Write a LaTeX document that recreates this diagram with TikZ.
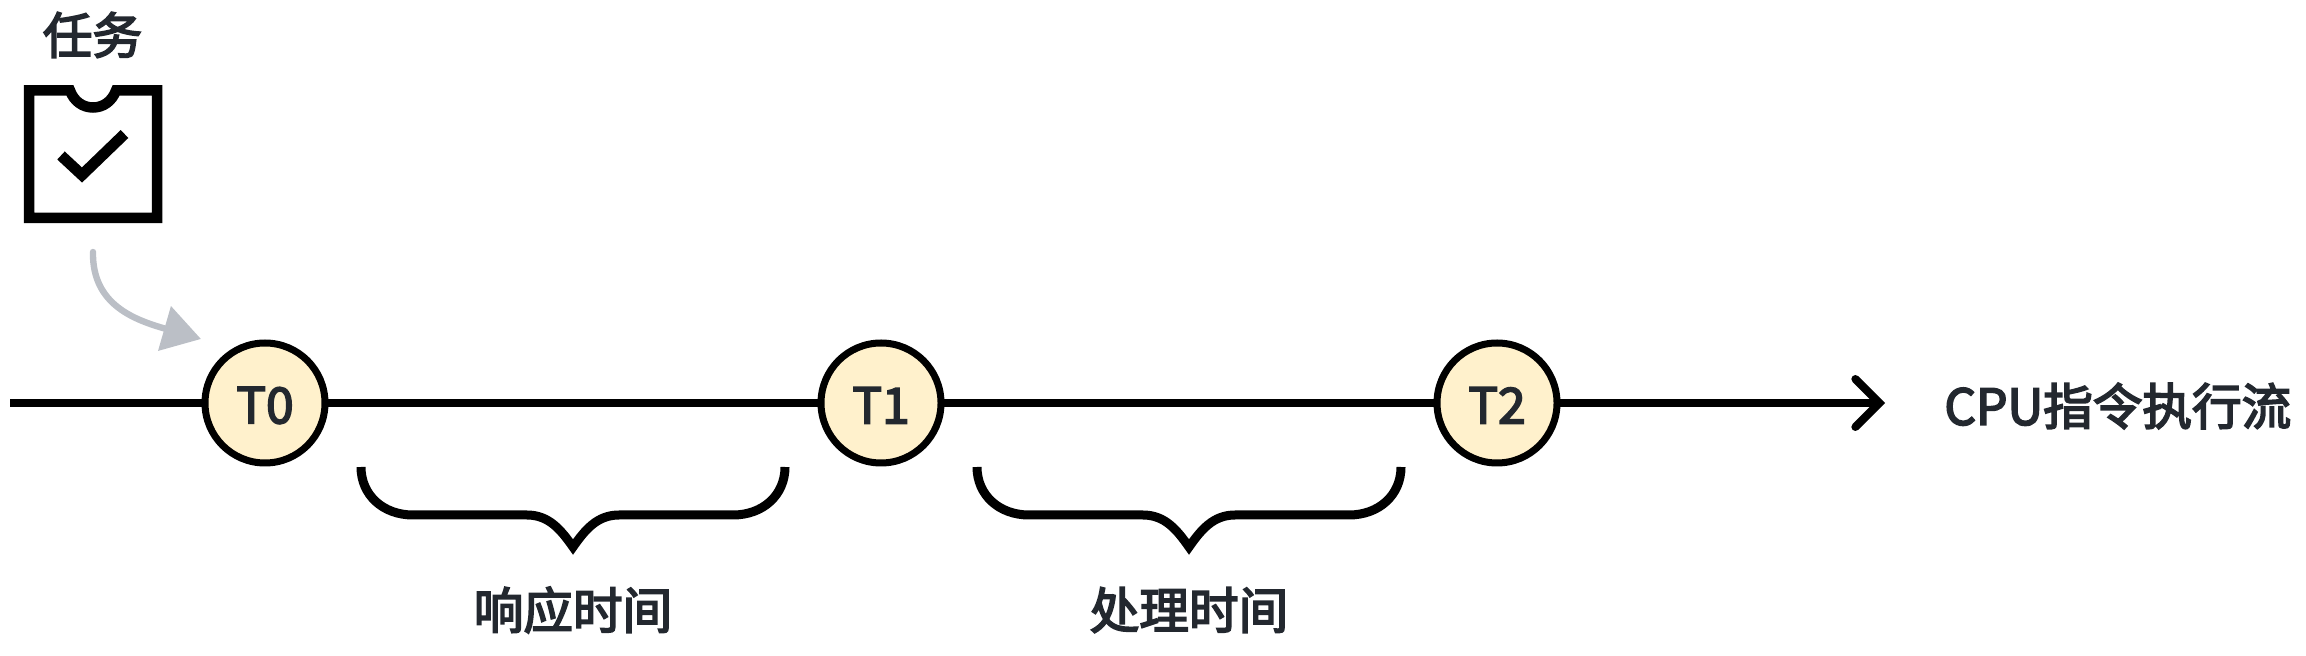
\documentclass[tikz,border=0pt]{standalone}
\usepackage{fontspec}
\newfontfamily\lblfont{Noto Sans CJK SC}[FakeBold=3.5]
\usetikzlibrary{positioning,arrows.meta,calc}
\definecolor{inkdark}{HTML}{23282F}
\definecolor{tickfill}{HTML}{FFF1CC}
\definecolor{flowgray}{HTML}{BBBFC6}
\tikzset{
  tick/.style={circle,draw=black,fill=tickfill,line width=3.5pt,minimum size=60pt,inner sep=0pt,outer sep=0pt},
  lbl/.style={text=inkdark,inner sep=0pt,font=\lblfont\fontsize{24.8}{28}\selectfont},
  flow/.style={draw=black,line width=4pt},
  brace/.style={draw=black,line width=4.5pt,miter limit=10}
}
\begin{document}
\begin{tikzpicture}[x=0.5pt,y=-0.5pt]
  \useasboundingbox (0,0) rectangle (2306,656);

  % timeline
  \coordinate (start) at (10,403);
  \node (t0) [tick] at (265,403) {};
  \node (t1) [tick, right=248pt of t0] {};
  \node (t2) [tick, right=248pt of t1] {};
  \coordinate (stop) at (1885,403);
  \draw [flow] (start) -- (t0);
  \draw [flow] (t0) -- (t1);
  \draw [flow] (t1) -- (t2);
  \draw [flow,-{Straight Barb[length=12pt,width=24pt,line cap=round]}] (t2) -- (stop);
  \node [lbl,yshift=-1.2pt] at (t0) {T0};
  \node [lbl,yshift=-1.2pt] at (t1) {T1};
  \node [lbl,yshift=-1.2pt] at (t2) {T2};
  \node (cpu) [lbl,anchor=west] at (1944,406) {CPU指令执行流};

  % task icon
  \node (task) [lbl] at (92.5,35) {任务};
  \draw [line width=5.25pt,miter limit=10] (29,90.5) -- (70,90.5)
    .. controls (74,101.5) and (83,107.5) .. (93,107.5) .. controls (103,107.5) and (112,101.5) .. (116,90.5)
    -- (157,90.5) -- (157,218) -- (29,218) -- cycle;
  \draw [line width=5.5pt,miter limit=10] (61,155.5) -- (82,175) -- (124.5,134);

  % incoming task
  \coordinate (inflow) at (93,252);
  \coordinate (intip) at (201,339);
  \draw [flowgray,line width=3.2pt,line cap=round,-{Triangle[length=19pt,width=22.5pt]}]
    (inflow) .. controls (92,305) and (135,320) .. (intip);

  % spans
  \foreach \bx/\bname/\btext in {361/resp/响应时间,977/proc/处理时间}{
    \draw [brace] (\bx,467) .. controls (\bx,495) and (\bx+22,515) .. (\bx+52,515)
      -- (\bx+166,515) .. controls (\bx+188,515) and (\bx+200,530) .. (\bx+212,547)
      .. controls (\bx+224,530) and (\bx+236,515) .. (\bx+258,515)
      -- (\bx+372,515) .. controls (\bx+402,515) and (\bx+424,495) .. (\bx+424,467);
    \node (\bname) [lbl] at (\bx+212,610) {\btext};
  }
\end{tikzpicture}
\end{document}
